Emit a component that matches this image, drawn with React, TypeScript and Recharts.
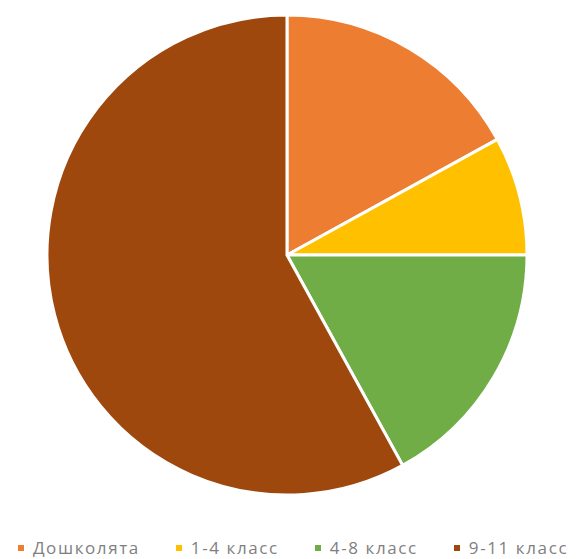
import { PieChart, Pie, Cell, Legend } from 'recharts';

const CATEGORIES = ['Дошколята', '1-4 класс', '4-8 класс', '9-11 класс'];
const VALUES = [17, 8, 17, 58];
const COLORS = ['#ED7D31', '#FFC000', '#70AD47', '#9E480E'];

const data = CATEGORIES.map((name, i) => ({ name, value: VALUES[i] }));

function LegendContent() {
  return (
    <div style={{ display: 'flex', justifyContent: 'center', gap: 36, fontFamily: 'Open Sans, sans-serif', fontSize: 17, letterSpacing: 1.6, color: '#7f7f7f' }}>
      {CATEGORIES.map((name, i) => (
        <div key={name} style={{ display: 'flex', alignItems: 'center' }}>
          <span style={{ display: 'inline-block', width: 6, height: 6, background: COLORS[i], marginRight: 9 }} />
          <span>{name}</span>
        </div>
      ))}
    </div>
  );
}

export default function App() {
  return (
    <PieChart width={570} height={551} margin={{ top: 0, right: 0, bottom: 0, left: 0 }}>
      <Pie
        data={data}
        dataKey="value"
        nameKey="name"
        cx={279}
        cy={247}
        outerRadius={240}
        startAngle={90}
        endAngle={-270}
        stroke="#ffffff"
        strokeWidth={3}
        isAnimationActive={false}
      >
        {data.map((entry, i) => (
          <Cell key={entry.name} fill={COLORS[i]} />
        ))}
      </Pie>
      <Legend verticalAlign="bottom" height={26} content={<LegendContent />} wrapperStyle={{ bottom: -3 }} />
    </PieChart>
  );
}
